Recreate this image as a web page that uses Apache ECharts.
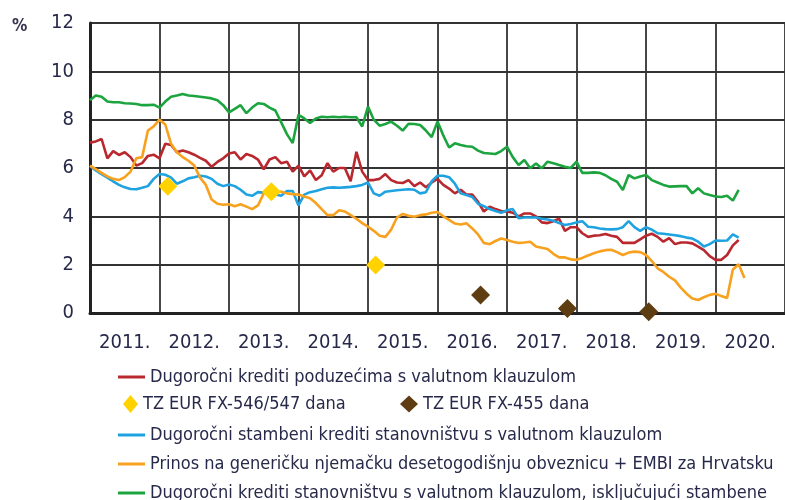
<!DOCTYPE html>
<html>
<head>
<meta charset="utf-8">
<script src="https://cdn.jsdelivr.net/npm/echarts@6/dist/echarts.min.js"></script>
<style>
html,body{margin:0;padding:0;background:#fff;}
#chart{width:785px;height:500px;}
</style>
</head>
<body>
<div id="chart"></div>
<script>
// Monthly observations, first value = January 2011
const startYear = 2011;
const yearLabels = ['2011.','2012.','2013.','2014.','2015.','2016.','2017.','2018.','2019.','2020.'];
const yTicks = [0, 2, 4, 6, 8, 10, 12];

const redCorporate = [7.05,7.1,7.2,6.4,6.7,6.54,6.65,6.45,6.1,6.2,
6.5,6.55,6.4,7.0,6.95,6.65,6.72,6.65,6.55,6.42,
6.3,6.05,6.25,6.4,6.6,6.65,6.35,6.58,6.5,6.35,
5.95,6.35,6.45,6.2,6.26,5.85,6.1,5.65,5.9,5.5,
5.7,6.2,5.85,6.0,6.0,5.45,6.67,5.85,5.5,5.5,
5.55,5.75,5.5,5.4,5.38,5.5,5.25,5.4,5.2,5.4,
5.55,5.3,5.15,4.95,5.1,4.9,4.9,4.6,4.2,4.4,
4.3,4.22,4.2,4.15,4.0,4.12,4.12,4.0,3.75,3.72,
3.8,3.9,3.4,3.55,3.55,3.3,3.15,3.2,3.22,3.27,
3.2,3.15,2.9,2.9,2.9,3.05,3.2,3.28,3.15,2.95,
3.1,2.85,2.92,2.92,2.88,2.75,2.6,2.35,2.2,2.2,
2.4,2.8,3.02];

const blueHousing = [6.08,5.9,5.75,5.6,5.45,5.3,5.2,5.13,5.12,5.18,
5.25,5.55,5.75,5.72,5.6,5.35,5.45,5.57,5.62,5.68,
5.65,5.55,5.35,5.25,5.32,5.25,5.1,4.9,4.85,5.0,
4.98,5.0,4.9,4.85,5.05,5.05,4.45,4.9,5.0,5.05,
5.12,5.18,5.2,5.18,5.2,5.22,5.25,5.3,5.4,4.95,
4.85,5.02,5.05,5.08,5.1,5.12,5.1,4.95,5.0,5.45,
5.68,5.68,5.62,5.35,4.95,4.88,4.8,4.52,4.42,4.3,
4.22,4.15,4.25,4.3,3.92,3.95,3.95,3.95,3.9,3.87,
3.82,3.72,3.64,3.68,3.75,3.8,3.57,3.55,3.5,3.47,
3.46,3.47,3.55,3.8,3.55,3.4,3.55,3.45,3.3,3.28,
3.25,3.22,3.18,3.12,3.08,2.95,2.75,2.85,3.0,2.99,
3.0,3.25,3.12];

const orangeBund = [6.1,5.95,5.8,5.65,5.55,5.5,5.62,5.85,6.4,6.45,
7.55,7.72,8.0,7.8,7.0,6.65,6.45,6.3,6.1,5.6,
5.3,4.7,4.52,4.48,4.5,4.42,4.5,4.4,4.3,4.45,
4.95,5.05,5.05,5.02,4.95,4.92,4.9,4.82,4.75,4.55,
4.3,4.05,4.05,4.25,4.2,4.05,3.9,3.72,3.57,3.4,
3.2,3.15,3.45,3.95,4.1,4.02,3.98,4.05,4.08,4.15,
4.18,4.0,3.85,3.7,3.66,3.71,3.5,3.25,2.9,2.85,
2.98,3.08,3.02,2.95,2.9,2.92,2.95,2.75,2.7,2.65,
2.45,2.3,2.3,2.22,2.2,2.28,2.38,2.47,2.55,2.6,
2.62,2.52,2.4,2.5,2.54,2.52,2.4,2.15,1.85,1.7,
1.5,1.35,1.05,0.8,0.6,0.54,0.65,0.75,0.8,0.7,
0.62,1.8,2.02,1.45];

const greenConsumer = [8.8,9.0,8.95,8.75,8.72,8.72,8.68,8.67,8.65,8.6,
8.6,8.62,8.5,8.75,8.95,9.0,9.06,9.0,8.98,8.95,
8.92,8.88,8.8,8.6,8.3,8.45,8.6,8.27,8.5,8.68,
8.65,8.5,8.38,7.9,7.4,7.03,8.2,8.05,7.86,8.05,
8.12,8.1,8.12,8.1,8.12,8.1,8.1,7.72,8.54,8.0,
7.75,7.82,7.92,7.75,7.55,7.83,7.82,7.78,7.55,7.28,
7.92,7.35,6.85,7.02,6.95,6.9,6.88,6.72,6.62,6.6,
6.58,6.7,6.88,6.45,6.12,6.33,5.99,6.19,5.99,6.26,
6.2,6.12,6.05,6.0,6.26,5.8,5.8,5.82,5.8,5.7,
5.55,5.43,5.09,5.71,5.57,5.65,5.71,5.5,5.4,5.3,
5.23,5.24,5.25,5.25,4.95,5.16,4.95,4.88,4.82,4.8,
4.85,4.65,5.09];

// Treasury bill auction points (decimal year, %)
const yellowDates = [2012.12, 2013.61, 2015.11];
const yellowValues = [5.25, 5.02, 1.99];
const brownDates = [2016.62, 2017.87, 2019.04];
const brownValues = [0.74, 0.19, 0.05];

const names = {
  red: 'Dugoročni krediti poduzećima s valutnom klauzulom',
  yellow: 'TZ EUR FX-546/547 dana',
  brown: 'TZ EUR FX-455 dana',
  blue: 'Dugoročni stambeni krediti stanovništvu s valutnom klauzulom',
  orange: 'Prinos na generičku njemačku desetogodišnju obveznicu + EMBI za Hrvatsku',
  green: 'Dugoročni krediti stanovništvu s valutnom klauzulom, isključujući stambene'
};
const colors = {red:'#b8282e', yellow:'#ffd200', brown:'#5e3d12', blue:'#1fa3e0', orange:'#f7a11f', green:'#1ca43f'};

const FONT = "'DejaVu Sans Condensed','Liberation Sans Narrow','Arial Narrow',sans-serif";
const TXT = '#27294a';

function toPairs(arr){ return arr.map((v,i)=>[startYear + i/12, v]); }
function zipPairs(xs, ys){ return xs.map((x,i)=>[x, ys[i]]); }

const chart = echarts.init(document.getElementById('chart'), null, {renderer:'canvas'});

function lineSeries(key, arr){
  return {name: names[key], type:'line', data: toPairs(arr), showSymbol:false, symbol:'none',
    lineStyle:{color: colors[key], width:2.6}, itemStyle:{color: colors[key]}, z:3, animation:false};
}
function legendOf(key, left, top, icon, w, h, gap){
  return {data:[{name:names[key], icon: icon}], left:left, top:top, padding:0, itemWidth:w, itemHeight:h,
    itemGap:0, itemTextGap:gap, selectedMode:false,
    textStyle:{fontFamily:FONT, fontSize:18, color:TXT}};
}

chart.setOption({
  animation:false,
  grid:{left:90, top:23, width:700, height:290, containLabel:false},
  graphic:[{type:'text', left:12, top:18, style:{text:'%', font:"bold 17px "+FONT, fill:'#3a3550'}}],
  legend:[
    legendOf('red', 118, 368, 'rect', 27, 3, 5),
    legendOf('yellow', 123, 395, 'diamond', 15, 18, 12),
    legendOf('brown', 400, 395, 'diamond', 18, 17, 10),
    legendOf('blue', 118, 426, 'rect', 27, 3, 5),
    legendOf('orange', 118, 455, 'rect', 27, 3, 5),
    legendOf('green', 118, 484, 'rect', 27, 3, 5)
  ],
  xAxis:[
    {type:'value', min:2011, max:2021, interval:1,
     axisLine:{show:true, onZero:false, lineStyle:{color:'#222', width:3}},
     axisTick:{show:false}, axisLabel:{show:false},
     splitLine:{show:true, lineStyle:{color:'#333', width:1.8}}},
    {type:'category', data: yearLabels, boundaryGap:true, position:'bottom',
     axisLine:{show:false}, axisTick:{show:false}, splitLine:{show:false},
     axisLabel:{margin:20, fontFamily:FONT, fontSize:20, color:TXT}}
  ],
  yAxis:{type:'value', min:0, max:12, interval:2,
    axisLine:{show:true, lineStyle:{color:'#222', width:3}}, axisTick:{show:false},
    axisLabel:{margin:16, fontFamily:FONT, fontSize:20, color:TXT,
      formatter: v => yTicks.indexOf(v) >= 0 ? String(v) : ''},
    splitLine:{show:true, lineStyle:{color:'#333', width:1.8}}},
  series:[
    lineSeries('green', greenConsumer),
    lineSeries('red', redCorporate),
    lineSeries('blue', blueHousing),
    lineSeries('orange', orangeBund),
    {name:names.yellow, type:'scatter', symbol:'diamond', symbolSize:[19,19], data: zipPairs(yellowDates, yellowValues),
     itemStyle:{color:colors.yellow, opacity:1}, z:5},
    {name:names.brown, type:'scatter', symbol:'diamond', symbolSize:[19,19], data: zipPairs(brownDates, brownValues),
     itemStyle:{color:colors.brown, opacity:1}, z:5}
  ]
});
</script>
</body>
</html>
